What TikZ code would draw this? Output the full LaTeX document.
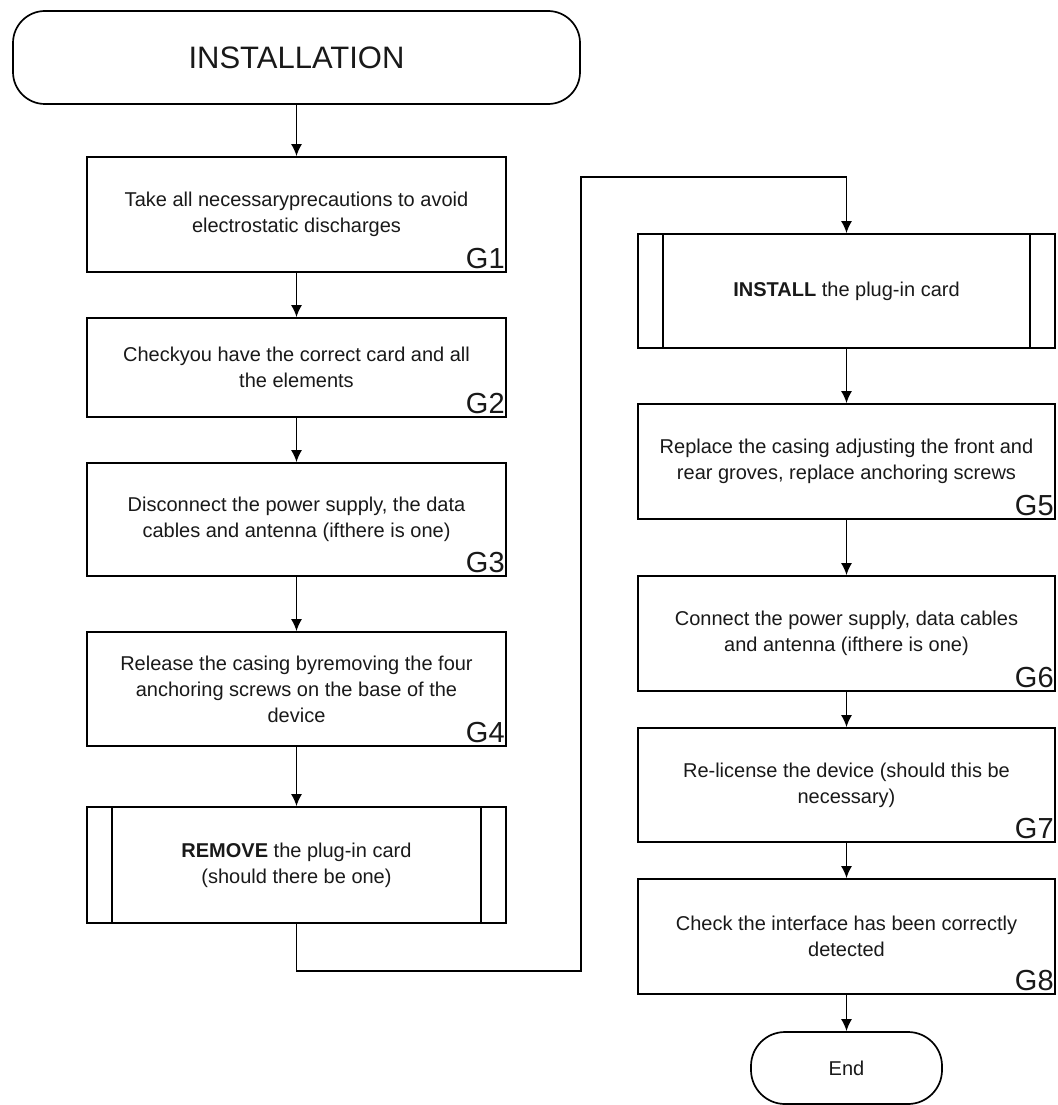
\documentclass[tikz,border=0pt]{standalone}
\usepackage{fontspec}
\setmainfont{Liberation Sans}
\usepackage{tikz}
\usetikzlibrary{arrows.meta}
\tikzset{%Global config
	>={Latex[length=12pt,width=11pt]},
	color = black!90 ,
	%Styles
	Box/.style={
		draw,
		line width=1.7pt,
		minimum width=419pt,
		align=center,
		font=\fontsize{20}{26}\selectfont,
		inner sep=0pt,
	},
	SubBox/.style={
		Box,
		path picture={
			\draw[line width=1.7pt] ([xshift=25pt]path picture bounding box.north west) -- ([xshift=25pt]path picture bounding box.south west);
			\draw[line width=1.7pt] ([xshift=-25pt]path picture bounding box.north east) -- ([xshift=-25pt]path picture bounding box.south east);
		},
	},
	Term/.style={
		draw,
		line width=1.7pt,
		inner sep=0pt,
	},
	Tag/.style={
		anchor=south east,
		inner xsep=2pt,
		inner ysep=4pt,
		font=\fontsize{29}{29}\selectfont,
	},
	Flow/.style={
		->,
		line width=1.7pt,
	},
}

\begin{document}
\begin{tikzpicture}[x=1pt,y=-1pt]
		\useasboundingbox (0,0) rectangle (1057,1105);

		% Left column
		\node[Term, rounded corners=32pt, minimum width=567pt, minimum height=93pt, font=\fontsize{31}{31}\selectfont] (start) at (296.5,57.5) {INSTALLATION};
		\node[Box, minimum height=115pt] (g1) at (296.5,214.5) {Take all necessaryprecautions to avoid\\electrostatic discharges};
		\node[Box, minimum height=99pt] (g2) at (296.5,367.5) {Checkyou have the correct card and all\\the elements};
		\node[Box, minimum height=113pt] (g3) at (296.5,519.5) {Disconnect the power supply, the data\\cables and antenna (ifthere is one)};
		\node[Box, minimum height=114pt] (g4) at (296.5,689) {Release the casing byremoving the four\\anchoring screws on the base of the\\device};
		\node[SubBox, minimum height=116pt] (rem) at (296.5,865) {\textbf{REMOVE} the plug-in card\\(should there be one)};

		% Right column
		\node[SubBox, minimum width=417pt, minimum height=114pt] (inst) at (846.5,291) {\textbf{INSTALL} the plug-in card};
		\node[Box, minimum width=417pt, minimum height=115pt] (g5) at (846.5,461.5) {Replace the casing adjusting the front and\\rear groves, replace anchoring screws};
		\node[Box, minimum width=417pt, minimum height=115pt] (g6) at (846.5,633.5) {Connect the power supply, data cables\\and antenna (ifthere is one)};
		\node[Box, minimum width=417pt, minimum height=114pt] (g7) at (846.5,785) {Re-license the device (should this be\\necessary)};
		\node[Box, minimum width=417pt, minimum height=115pt] (g8) at (846.5,936.5) {Check the interface has been correctly\\detected};
		\node[Term, rounded corners=34pt, minimum width=191pt, minimum height=72pt, font=\fontsize{20}{20}\selectfont] (stop) at (846.5,1068) {End};

		% Step tags
		\foreach \n in {1,...,8}
			\node[Tag] (t\n) at (g\n.south east) {G\n};

		% Connectors
		\coordinate (j1) at (581,971);
		\coordinate (j2) at (581,177);
		\draw[Flow] (start) -- (g1);
		\draw[Flow] (g1) -- (g2);
		\draw[Flow] (g2) -- (g3);
		\draw[Flow] (g3) -- (g4);
		\draw[Flow] (g4) -- (rem);
		\draw[Flow] (rem.south) |- (j1) -- (j2) -| (inst.north);
		\draw[Flow] (inst) -- (g5);
		\draw[Flow] (g5) -- (g6);
		\draw[Flow] (g6) -- (g7);
		\draw[Flow] (g7) -- (g8);
		\draw[Flow] (g8) -- (stop);
	\end{tikzpicture}
\end{document}
